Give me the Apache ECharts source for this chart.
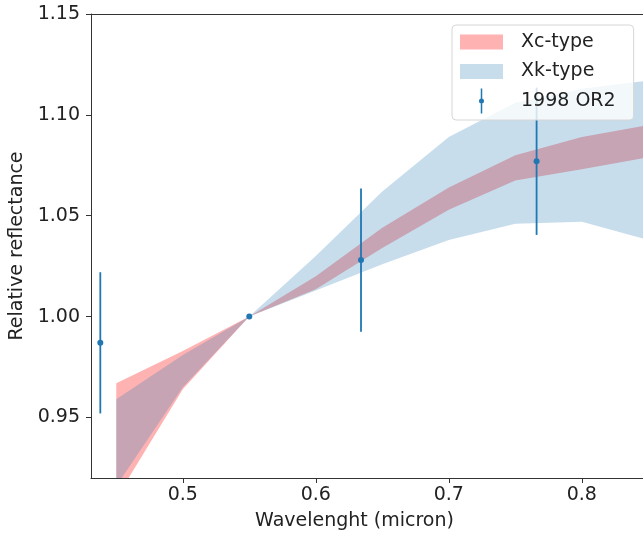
<!DOCTYPE html>
<html>
<head>
<meta charset="utf-8">
<script src="https://cdn.jsdelivr.net/npm/echarts@6.0.0/dist/echarts.min.js"></script>
<style>
  html, body { margin: 0; padding: 0; background: #fff; }
  #chart { width: 643px; height: 533px; }
</style>
</head>
<body>
<div id="chart"></div>
<script>
// band edges, sampled every 0.05 micron
const wavelength = [0.45, 0.50, 0.55, 0.60, 0.65, 0.70, 0.75, 0.80, 0.85]
const xcUpper = [0.967, 0.983, 1.000, 1.020, 1.044, 1.064, 1.080, 1.089, 1.095]
const xcLower = [0.910, 0.964, 1.000, 1.0135, 1.034, 1.053, 1.0675, 1.073, 1.079]
const xkUpper = [0.959, 0.981, 1.000, 1.030, 1.062, 1.089, 1.106, 1.113, 1.117]
const xkLower = [0.916, 0.965, 1.000, 1.013, 1.026, 1.038, 1.046, 1.047, 1.038]

// 1998 OR2 photometry
const obsWave = [0.438, 0.55, 0.634, 0.766]
const obsRefl = [0.987, 1.000, 1.028, 1.077]
const obsErr = [0.035, 0, 0.0355, 0.0365]

const xTicks = [0.5, 0.6, 0.7, 0.8]
const yTicks = [0.95, 1.00, 1.05, 1.10, 1.15]

const font = 'DejaVu Sans'
const axisColor = '#333'
const xMin = 0.431
const xMax = 0.846

function bandSeries (name, lower, upper, fill) {
  return {
    name: name,
    type: 'custom',
    itemStyle: { color: fill },
    encode: { x: 0, y: [1, 2] },
    data: wavelength.map((w, i) => [w, lower[i], upper[i]]),
    renderItem (params, api) {
      if (params.dataIndex !== 0) return null
      const pts = []
      for (let i = 0; i < wavelength.length; i++) pts.push(api.coord([wavelength[i], upper[i]]))
      for (let i = wavelength.length - 1; i >= 0; i--) pts.push(api.coord([wavelength[i], lower[i]]))
      const cs = params.coordSys
      return {
        type: 'group',
        clipPath: { type: 'rect', shape: { x: cs.x, y: cs.y, width: cs.width, height: cs.height } },
        children: [{ type: 'polygon', shape: { points: pts }, style: { fill: fill } }]
      }
    }
  }
}

let chart = echarts.init(document.getElementById('chart'))
chart.setOption({
  animation: false,
  grid: {
    left: 91,
    top: 14,
    right: 0,
    bottom: 55,
    outerBoundsMode: 'none'
  },
  legend: {
    orient: 'vertical',
    left: 452,
    top: 25,
    itemWidth: 43,
    itemHeight: 25,
    itemGap: 4.5,
    padding: [4.5, 18, 6.5, 8],
    backgroundColor: 'rgba(255,255,255,0.8)',
    borderColor: '#d6d6d6',
    borderWidth: 1,
    borderRadius: 4,
    textStyle: { fontFamily: font, fontSize: 19, lineHeight: 25, color: '#222', padding: [0, 0, 0, 13] },
    data: [
      { name: 'Xc-type', icon: 'path://M0,0H43V15H0Z', itemStyle: { color: 'rgba(255,0,0,0.3)' } },
      { name: 'Xk-type', icon: 'path://M0,0H43V15H0Z', itemStyle: { color: 'rgba(31,119,180,0.25)' } },
      {
        name: '1998 OR2',
        icon: 'path://M1.75,0H3.25V25H1.75Z M5,12.5A2.5,2.5 0 1 1 0,12.5A2.5,2.5 0 1 1 5,12.5Z',
        itemStyle: { color: '#1f77b4' }
      }
    ]
  },
  xAxis: [
    {
      type: 'value',
      min: xMin,
      max: xMax,
      name: 'Wavelenght (micron)',
      nameLocation: 'middle',
      nameGap: 34,
      nameTextStyle: { fontFamily: font, fontSize: 19, color: '#222', padding: [0, 25, 0, 0] },
      axisLine: { show: true, lineStyle: { color: axisColor, width: 1 } },
      axisTick: { show: true, customValues: xTicks, length: 5, lineStyle: { color: axisColor } },
      axisLabel: {
        customValues: xTicks,
        formatter: v => v.toFixed(1),
        fontFamily: font,
        fontSize: 19,
        color: '#222',
        margin: 8
      },
      splitLine: { show: false }
    },
    {
      // top spine only
      type: 'value',
      position: 'top',
      min: xMin,
      max: xMax,
      axisLine: { show: true, onZero: false, lineStyle: { color: axisColor, width: 1 } },
      axisTick: { show: false },
      axisLabel: { show: false },
      splitLine: { show: false }
    }
  ],
  yAxis: {
    type: 'value',
    min: 0.92,
    max: 1.15,
    name: 'Relative reflectance',
    nameLocation: 'middle',
    nameGap: 60,
    nameTextStyle: { fontFamily: font, fontSize: 19, color: '#222' },
    axisLine: { show: true, lineStyle: { color: axisColor, width: 1 } },
    axisTick: { show: true, customValues: yTicks, length: 5, lineStyle: { color: axisColor } },
    axisLabel: {
      customValues: yTicks,
      formatter: v => v.toFixed(2),
      fontFamily: font,
      fontSize: 19,
      color: '#222',
      margin: 11
    },
    splitLine: { show: false }
  },
  series: [
    bandSeries('Xc-type', xcLower, xcUpper, 'rgba(255,0,0,0.3)'),
    bandSeries('Xk-type', xkLower, xkUpper, 'rgba(31,119,180,0.25)'),
    {
      name: '1998 OR2',
      type: 'custom',
      itemStyle: { color: '#1f77b4' },
      encode: { x: 0, y: 1 },
      data: obsWave.map((w, i) => [w, obsRefl[i], obsErr[i]]),
      renderItem (params, api) {
        const x = api.value(0)
        const y = api.value(1)
        const e = api.value(2)
        const top = api.coord([x, y + e])
        const bot = api.coord([x, y - e])
        const c = api.coord([x, y])
        return {
          type: 'group',
          children: [
            { type: 'line', shape: { x1: top[0], y1: top[1], x2: bot[0], y2: bot[1] }, style: { stroke: '#1f77b4', lineWidth: 1.8 } },
            { type: 'circle', shape: { cx: c[0], cy: c[1], r: 3 }, style: { fill: '#1f77b4' } }
          ]
        }
      }
    }
  ]
})
</script>
</body>
</html>
